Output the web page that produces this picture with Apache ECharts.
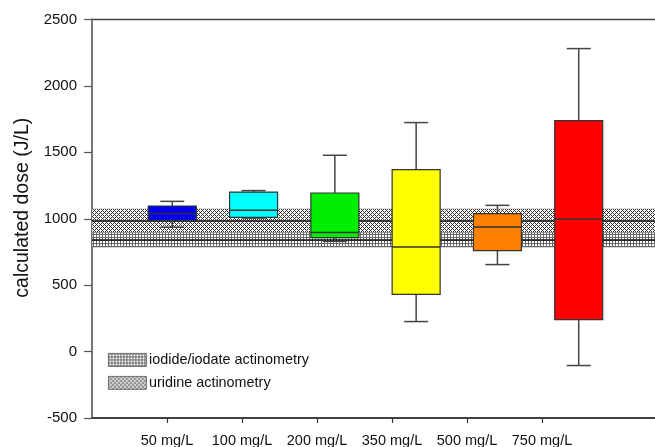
<!DOCTYPE html>
<html>
<head>
<meta charset="utf-8">
<script src="https://cdn.jsdelivr.net/npm/echarts@6/dist/echarts.min.js"></script>
<style>html,body{margin:0;padding:0;background:#fff}#c{width:655px;height:447px}</style>
</head>
<body>
<div id="c"></div>
<script>
// ---- data ----
const categories = ['50 mg/L', '100 mg/L', '200 mg/L', '350 mg/L', '500 mg/L', '750 mg/L'];
const lowerWhisker = [936, 1005, 830, 226, 655, -105];
const q1 = [988, 1011, 858, 431, 760, 241];
const median = [1039, 1064, 896, 787, 938, 998];
const q3 = [1096, 1201, 1194, 1370, 1039, 1739];
const upperWhisker = [1131, 1212, 1478, 1724, 1101, 2281];
const boxColors = ['#0000ee', '#00ffff', '#00ee00', '#ffff00', '#ff8000', '#ff0000'];
// reference bands: [low, centre, high]
const iodideBand = [787, 845, 896];
const uridineBand = [896, 983, 1073];
const yTicks = { min: -500, max: 2500, step: 500 };
const legendLabels = ['iodide/iodate actinometry', 'uridine actinometry'];

// ---- patterns ----
function makeTile(w, h, fn, bg, fg) {
  const c = document.createElement('canvas');
  c.width = w; c.height = h;
  const g = c.getContext('2d');
  g.fillStyle = bg; g.fillRect(0, 0, w, h);
  g.fillStyle = fg;
  for (let x = 0; x < w; x++) for (let y = 0; y < h; y++) if (fn(x, y)) g.fillRect(x, y, 1, 1);
  return c;
}
const uridineTile = makeTile(4, 4, (x, y) => ((x - y + 4) % 4 === 0) || ((x + y) % 4 === 0), '#ffffff', '#333333');
const iodideTile = makeTile(3, 3, (x, y) => x === 0 || y === 0, '#ffffff', '#666666');
const uridinePattern = { image: uridineTile, repeat: 'repeat' };
const iodidePattern = { image: iodideTile, repeat: 'repeat' };

const labelAxisData = [''].concat(categories, ['', '']);
const boxAxisData = [''].concat(categories, ['']);

const boxData = categories.map((c, i) => ({
  value: [i + 1, lowerWhisker[i], q1[i], median[i], q3[i], upperWhisker[i]],
  itemStyle: { color: boxColors[i] }
}));

const font = 'Arial, "Liberation Sans", sans-serif';

const chart = echarts.init(document.getElementById('c'), null, { renderer: 'canvas' });
chart.setOption({
  animation: false,
  backgroundColor: '#fff',
  grid: [
    { left: 92, top: 19.5, width: 600, bottom: 29, outerBoundsMode: 'none', containLabel: false, show: true, borderColor: '#444', borderWidth: 1.5, backgroundColor: 'transparent' },
    { left: 91, top: 19.5, width: 569, bottom: 29, outerBoundsMode: 'none', containLabel: false }
  ],
  xAxis: [
    {
      gridIndex: 0, type: 'category', data: labelAxisData, boundaryGap: false,
      axisLine: { onZero: false, lineStyle: { color: '#333', width: 1.5 } },
      axisTick: { length: 5, lineStyle: { color: '#333', width: 1.2 }, interval: (idx, val) => val !== '' },
      axisLabel: { interval: 0, margin: 15, fontSize: 14.5, color: '#111', fontFamily: font },
      splitLine: { show: false }
    },
    { gridIndex: 1, type: 'category', data: boxAxisData, boundaryGap: false, show: false, axisLine: { onZero: false } }
  ],
  yAxis: [
    {
      gridIndex: 0, type: 'value', min: yTicks.min, max: yTicks.max, interval: yTicks.step,
      name: 'calculated dose (J/L)', nameLocation: 'middle', nameGap: 58,
      nameTextStyle: { fontSize: 19.5, color: '#111', fontFamily: font, padding: [0, 0, 0, 22] },
      axisLine: { show: true, onZero: false, lineStyle: { color: '#777', width: 2 } },
      axisTick: { show: true, length: 8, lineStyle: { color: '#555', width: 1.2 } },
      axisLabel: { margin: 15, fontSize: 15, color: '#111', fontFamily: font, formatter: v => String(v) },
      splitLine: { show: false }
    },
    { gridIndex: 1, type: 'value', min: yTicks.min, max: yTicks.max, interval: yTicks.step, show: false, splitLine: { show: false } }
  ],
  series: [
    {
      type: 'line', xAxisIndex: 0, yAxisIndex: 0, data: [], silent: true, z: 1,
      markArea: {
        silent: true,
        data: [
          [{ yAxis: uridineBand[0], itemStyle: { color: uridinePattern, borderColor: '#666', borderWidth: 0.5 } }, { yAxis: uridineBand[2] }],
          [{ yAxis: iodideBand[0], itemStyle: { color: iodidePattern, borderColor: '#666', borderWidth: 0.5 } }, { yAxis: iodideBand[2] }]
        ]
      },
      markLine: {
        silent: true, symbol: 'none', label: { show: false },
        lineStyle: { color: '#111', width: 1.5, type: 'solid' },
        data: [{ yAxis: uridineBand[1] }, { yAxis: iodideBand[1] }]
      }
    },
    {
      type: 'custom', xAxisIndex: 1, yAxisIndex: 1, z: 5, data: boxData,
      renderItem: function (params, api) {
        const idx = api.value(0);
        const pLo = api.coord([idx, api.value(1)]);
        const pQ1 = api.coord([idx, api.value(2)]);
        const pMed = api.coord([idx, api.value(3)]);
        const pQ3 = api.coord([idx, api.value(4)]);
        const pHi = api.coord([idx, api.value(5)]);
        const x = pMed[0];
        const bw = 48, cw = 24;
        const wStyle = { stroke: '#444', lineWidth: 1.5 };
        return {
          type: 'group',
          children: [
            { type: 'line', shape: { x1: x, y1: pHi[1], x2: x, y2: pQ3[1] }, style: wStyle },
            { type: 'line', shape: { x1: x, y1: pLo[1], x2: x, y2: pQ1[1] }, style: wStyle },
            { type: 'line', shape: { x1: x - cw / 2, y1: pHi[1], x2: x + cw / 2, y2: pHi[1] }, style: wStyle },
            { type: 'line', shape: { x1: x - cw / 2, y1: pLo[1], x2: x + cw / 2, y2: pLo[1] }, style: wStyle },
            { type: 'rect', shape: { x: x - bw / 2, y: pQ3[1], width: bw, height: pQ1[1] - pQ3[1] }, style: { fill: api.visual('color'), stroke: '#333', lineWidth: 1.2 } },
            { type: 'line', shape: { x1: x - bw / 2, y1: pMed[1], x2: x + bw / 2, y2: pMed[1] }, style: { stroke: '#333', lineWidth: 1.5 } }
          ]
        };
      }
    }
  ],
  graphic: [
    { type: 'rect', left: 108, top: 353, shape: { width: 38, height: 13 }, style: { fill: iodidePattern, stroke: '#555', lineWidth: 0.8 }, z: 10 },
    { type: 'text', left: 149, top: 353, style: { text: legendLabels[0], font: '14.4px ' + font, fill: '#111' }, z: 10 },
    { type: 'rect', left: 108, top: 376, shape: { width: 38, height: 13 }, style: { fill: uridinePattern, stroke: '#555', lineWidth: 0.8 }, z: 10 },
    { type: 'text', left: 149, top: 376, style: { text: legendLabels[1], font: '14.4px ' + font, fill: '#111' }, z: 10 }
  ]
});
</script>
</body>
</html>
